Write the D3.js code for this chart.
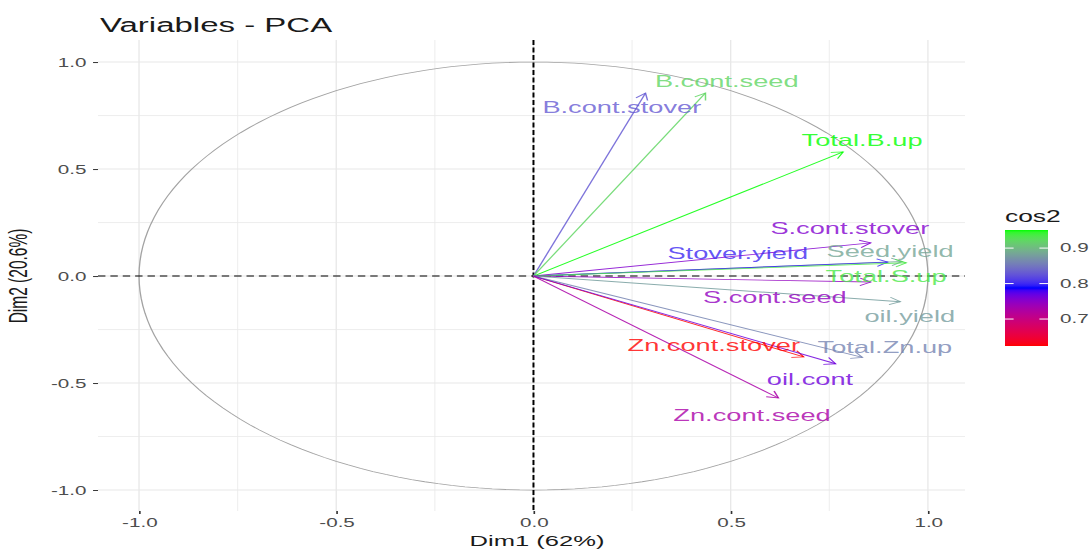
<!DOCTYPE html>
<html>
<head>
<meta charset="utf-8">
<script src="https://cdn.jsdelivr.net/npm/d3@7"></script>
<style>
  html, body { margin: 0; padding: 0; background: #ffffff; }
  svg { display: block; }
  text { font-family: "Liberation Sans", Arial, sans-serif; }
</style>
</head>
<body>
<svg id="chart"></svg>
<script>
// ---------------- data ----------------
const variables = ["B.cont.stover","B.cont.seed","Total.B.up","S.cont.stover","Seed.yield","Stover.yield",
                   "Total.S.up","S.cont.seed","oil.yield","Zn.cont.stover","Total.Zn.up","oil.cont","Zn.cont.seed"];
const dim1 = [0.284, 0.436, 0.785, 0.855, 0.935, 0.898, 0.945, 0.855, 0.930, 0.685, 0.834, 0.766, 0.621];
const dim2 = [0.855, 0.855, 0.580, 0.155, 0.068, 0.065, 0.062, -0.028, -0.120, -0.378, -0.380, -0.410, -0.570];
const cos2 = [0.830, 0.921, 0.951, 0.755, 0.885, 0.800, 0.935, 0.745, 0.878, 0.624, 0.860, 0.765, 0.728];
// repelled label anchors (data units)
const labelX = [0.224, 0.490, 0.833, 0.802, 0.904, 0.518, 0.894, 0.612, 0.954, 0.457, 0.891, 0.701, 0.554];
const labelY = [0.790, 0.911, 0.636, 0.224, 0.117, 0.107, 0.000, -0.098, -0.187, -0.322, -0.332, -0.481, -0.650];
const axisTicks = [-1.0, -0.5, 0.0, 0.5, 1.0];
const minorTicks = [-0.75, -0.25, 0.25, 0.75];
const legendTicks = [0.7, 0.8, 0.9];
const gradientColors = ["#FF0000", "#0000FF", "#00FF00"];
const titleText = "Variables - PCA";
const xTitle = "Dim1 (62%)";
const yTitle = "Dim2 (20.6%)";
const legendTitle = "cos2";

// ---------------- layout ----------------
const W = 1092, H = 549;
const S = 1.65;               // horizontal stretch of the picture
const X = px => px / S;       // screen px -> internal units
const svg = d3.select("#chart")
  .attr("width", W).attr("height", H)
  .attr("viewBox", `0 0 ${W / S} ${H}`)
  .attr("preserveAspectRatio", "none");

const panel = { left: 98, right: 965, top: 40, bottom: 511 };
const x = d3.scaleLinear().domain([-1.104, 1.094]).range([X(panel.left), X(panel.right)]);
const y = d3.scaleLinear().domain([-1.098, 1.103]).range([panel.bottom, panel.top]);

const grid = svg.append("g");
const gridColor = "#e8e8e8";
minorTicks.forEach(v => {
  grid.append("line").attr("x1", x(v)).attr("x2", x(v)).attr("y1", panel.top).attr("y2", panel.bottom)
    .attr("stroke", gridColor).attr("stroke-width", 0.6);
  grid.append("line").attr("x1", x.range()[0]).attr("x2", x.range()[1]).attr("y1", y(v)).attr("y2", y(v))
    .attr("stroke", gridColor).attr("stroke-width", 0.6);
});
axisTicks.forEach(v => {
  grid.append("line").attr("x1", x(v)).attr("x2", x(v)).attr("y1", panel.top).attr("y2", panel.bottom)
    .attr("stroke", gridColor).attr("stroke-width", 0.8);
  grid.append("line").attr("x1", x.range()[0]).attr("x2", x.range()[1]).attr("y1", y(v)).attr("y2", y(v))
    .attr("stroke", gridColor).attr("stroke-width", 1.1);
});

// axes
const fmt = d => d.toFixed(1);
const xAxis = svg.append("g").attr("transform", `translate(0,${panel.bottom})`)
  .call(d3.axisBottom(x).tickValues(axisTicks).tickFormat(fmt).tickSize(3).tickPadding(4));
const yAxis = svg.append("g").attr("transform", `translate(${X(panel.left)},0)`)
  .call(d3.axisLeft(y).tickValues(axisTicks).tickFormat(fmt).tickSize(3).tickPadding(4));
[xAxis, yAxis].forEach(a => {
  a.select(".domain").remove();
  a.selectAll(".tick line").attr("stroke", "#333333").attr("stroke-width", 1);
  a.selectAll(".tick text").attr("fill", "#4d4d4d").style("font-size", "12.5px");
});

// unit circle
const thetas = d3.range(0, 361, 2).map(d => d * Math.PI / 180);
svg.append("path")
  .attr("d", d3.line().x(t => x(Math.cos(t))).y(t => y(Math.sin(t)))(thetas))
  .attr("fill", "none").attr("stroke", "#a3a3a3").attr("stroke-width", 0.8);

// reference dashed lines
svg.append("line").attr("x1", x.range()[0]).attr("x2", x.range()[1]).attr("y1", y(0)).attr("y2", y(0))
  .attr("stroke", "#000").attr("stroke-width", 1.1).attr("stroke-dasharray", "4.5,3");
svg.append("line").attr("x1", x(0)).attr("x2", x(0)).attr("y1", panel.top).attr("y2", panel.bottom)
  .attr("stroke", "#000").attr("stroke-width", 1.2).attr("stroke-dasharray", "5,2.5");

// colour scale
const cmin = d3.min(cos2), cmax = d3.max(cos2);
const interp = d3.piecewise(d3.interpolateLab, gradientColors);
const color = v => interp((v - cmin) / (cmax - cmin));

// arrows
const arrows = svg.append("g").attr("stroke-opacity", 0.85);
const headLen = 7.5, headAng = Math.PI / 6;
variables.forEach((name, i) => {
  const x0 = x(0), y0 = y(0), x1 = x(dim1[i]), y1 = y(dim2[i]);
  const c = color(cos2[i]);
  arrows.append("line").attr("x1", x0).attr("y1", y0).attr("x2", x1).attr("y2", y1)
    .attr("stroke", c).attr("stroke-width", 0.9);
  const a = Math.atan2(y1 - y0, x1 - x0);
  const p1 = [x1 - headLen * Math.cos(a - headAng), y1 - headLen * Math.sin(a - headAng)];
  const p2 = [x1 - headLen * Math.cos(a + headAng), y1 - headLen * Math.sin(a + headAng)];
  arrows.append("path").attr("d", `M${p1[0]},${p1[1]}L${x1},${y1}L${p2[0]},${p2[1]}`)
    .attr("fill", "none").attr("stroke", c).attr("stroke-width", 0.9);
});

// labels
const labels = svg.append("g");
variables.forEach((name, i) => {
  labels.append("text").attr("x", x(labelX[i])).attr("y", y(labelY[i])).attr("dy", "0.35em")
    .attr("text-anchor", "middle").style("font-size", "16.5px")
    .attr("fill", color(cos2[i])).attr("fill-opacity", 0.8).text(name);
});

// titles
svg.append("text").attr("x", X(100)).attr("y", 32).style("font-size", "20px").attr("fill", "#1a1a1a").text(titleText);
svg.append("text").attr("x", X(537)).attr("y", 546).attr("text-anchor", "middle").style("font-size", "15.5px")
  .attr("fill", "#1a1a1a").text(xTitle);
svg.append("text").attr("transform", `translate(${X(27)},276) rotate(-90)`).attr("text-anchor", "middle")
  .style("font-size", "15.5px").attr("fill", "#1a1a1a").text(yTitle);

// legend
const lg = { x0: X(1005), x1: X(1048), top: 230, bottom: 346 };
const ly = d3.scaleLinear().domain([cmin, cmax]).range([lg.bottom, lg.top]);
const defs = svg.append("defs");
const grad = defs.append("linearGradient").attr("id", "cosgrad")
  .attr("x1", 0).attr("y1", 1).attr("x2", 0).attr("y2", 0);
d3.range(0, 1.0001, 0.02).forEach(t => grad.append("stop").attr("offset", t).attr("stop-color", interp(t)));
svg.append("rect").attr("x", lg.x0).attr("y", lg.top).attr("width", lg.x1 - lg.x0).attr("height", lg.bottom - lg.top)
  .attr("fill", "url(#cosgrad)");
const tw = (lg.x1 - lg.x0) / 5;
legendTicks.forEach(v => {
  svg.append("line").attr("x1", lg.x0).attr("x2", lg.x0 + tw).attr("y1", ly(v)).attr("y2", ly(v))
    .attr("stroke", "#fff").attr("stroke-width", 1);
  svg.append("line").attr("x1", lg.x1 - tw).attr("x2", lg.x1).attr("y1", ly(v)).attr("y2", ly(v))
    .attr("stroke", "#fff").attr("stroke-width", 1);
  svg.append("text").attr("x", X(1060)).attr("y", ly(v)).attr("dy", "0.35em").style("font-size", "12.5px")
    .attr("fill", "#4d4d4d").text(v.toFixed(1));
});
svg.append("text").attr("x", lg.x0).attr("y", 222).style("font-size", "16px").attr("fill", "#1a1a1a").text(legendTitle);
</script>
</body>
</html>
